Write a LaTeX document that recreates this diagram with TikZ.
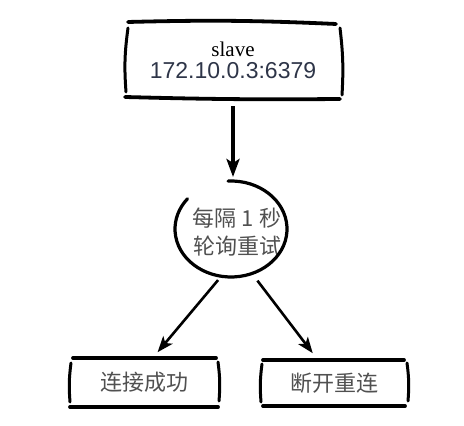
\documentclass[tikz,border=0pt]{standalone}
\usepackage{fontspec}
\setmainfont{Liberation Serif}
\newfontfamily\fonteip{Liberation Sans}
\newfontfamily\fontecjk{Noto Sans CJK SC}
\usepackage{tikz}
\usepackage{tkz-euclide}
\usepackage{xcolor}
\usetikzlibrary{arrows.meta}

\definecolor{tintaip}{HTML}{2E3548}
\definecolor{tintacjk}{HTML}{505050}

\begin{document}
\begin{tikzpicture}[x=0.5pt,y=0.5pt,
  traco/.style={line width=1.9pt, line cap=round},
  lateral/.style={line width=1.5pt, line cap=round},
  seta/.style={line width=1.3pt, -{Stealth[length=8pt,width=6pt,inset=2pt]}},
  caixa/.style={draw=none, inner sep=0pt, align=center},
  textocjk/.style={font=\fontecjk\fontsize{11}{14}\selectfont, text=tintacjk}] %estilos do desenho a mao livre

%A moldura fixa o tamanho da figura, igual a da imagem de referencia (em pixels)
\useasboundingbox (0,0) rectangle (464,426);

%O comando \tkzDefPoints define os pontos das pontas de cada traco das caixas. Os pontos sao definidos pelas coordenadas (x/y/NomedoPonto)
\tkzDefPoints{
128/404/A,
336/402/B,
125/329/C,
340/327/D,
128/398/E,
126/334/F,
340/398/G,
342/331/H}

\tkzDefPoints{
73/68/I,
216/68/J,
70/19/K,
218/19/L,
71/63/M,
70/24/N,
218/64/O,
219/25/P}

\tkzDefPoints{
263/66/Q,
404/66/R,
263/20/S,
405/20/T,
262/62/U,
261/24/V,
407/63/W,
408/25/X}

%Os nos com o texto de cada caixa, sem borda. A borda e desenhada depois com os tracos
%---------------------------------------------------
\node[caixa, minimum width=108pt, minimum height=38pt] (slave) at (233,366)
  {\fontsize{10.5}{13}\selectfont slave\\[-1pt]{\fonteip\fontsize{11.5}{13}\selectfont\color{tintaip}172.10.0.3:6379}};
\node[caixa, textocjk] (ciclo) at (237,194) {每隔 1 秒\\轮询重试};
\node[caixa, minimum width=74pt, minimum height=24.5pt, textocjk] (sucesso) at (144,43.5) {连接成功};
\node[caixa, minimum width=72pt, minimum height=23pt, textocjk] (reconexao) at (334,43) {断开重连};
%---------------------------------------------------

%Caixa de cima: dois tracos grossos (topo e base) e dois colchetes nas laterais
%---------------------------------------------------
\draw[traco] (A) to[bend left=2] (B);
\draw[traco] (C) to[bend right=1] (D);
\draw[lateral] (E) to[bend right=6] (F);
\draw[lateral] (G) to[bend left=5] (H);
%---------------------------------------------------

%Circulo desenhado a mao, com uma abertura em cima a esquerda. O centro do traco fica um pouco a esquerda do texto
%---------------------------------------------------
\coordinate (centro) at ([shift={(-6,3)}]ciclo.center);
\draw[line width=1.6pt, line cap=round] ([shift={(93:56 and 48)}]centro)
  arc[start angle=93, end angle=-219, x radius=56, y radius=48];
\coordinate (saidaE) at ([shift={(260:56 and 48)}]centro);
\coordinate (saidaD) at ([shift={(292:56 and 48)}]centro);
%---------------------------------------------------

%Caixas de baixo: o mesmo desenho da caixa de cima
%---------------------------------------------------
\draw[traco] (I) -- (J);
\draw[traco] (K) -- (L);
\draw[lateral] (M) to[bend right=6] (N);
\draw[lateral] (O) to[bend left=6] (P);

\draw[traco] (Q) -- (R);
\draw[traco] (S) -- (T);
\draw[lateral] (U) to[bend right=6] (V);
\draw[lateral] (W) to[bend left=6] (X);
%---------------------------------------------------

%As setas ligam os nos: de cima para o circulo e do circulo para as duas caixas
%---------------------------------------------------
\draw[line width=2pt, -{Stealth[length=9pt,width=6.5pt,inset=2pt]}, shorten <=4pt, shorten >=26pt] (slave.south) -- (slave.south |- centro);
\draw[seta, shorten <=2.5pt, shorten >=3.5pt] (saidaE) -- (sucesso.70);
\draw[seta, shorten <=4.5pt, shorten >=4pt] (saidaD) -- (reconexao.125);
%---------------------------------------------------

\end{tikzpicture}
\end{document}
